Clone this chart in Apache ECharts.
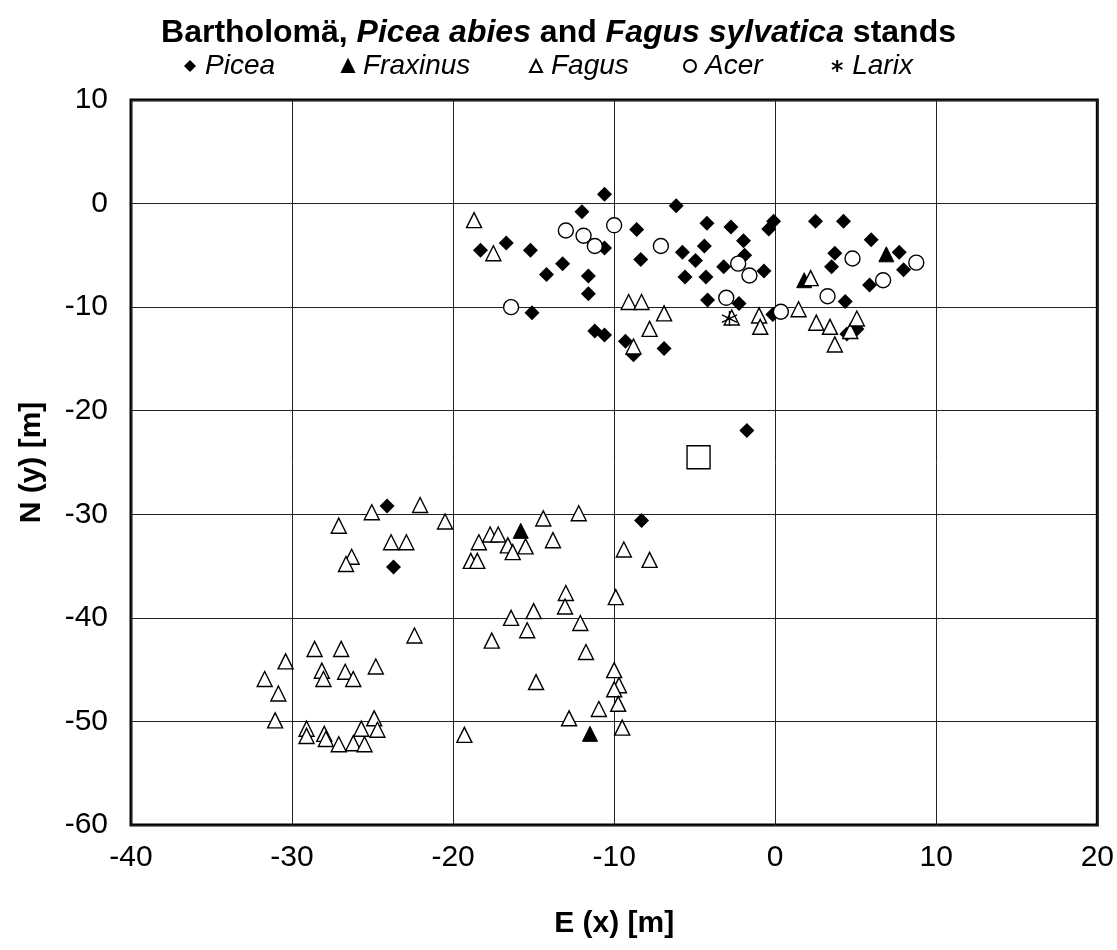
<!DOCTYPE html>
<html>
<head>
<meta charset="utf-8">
<script src="https://cdn.jsdelivr.net/npm/echarts@6/dist/echarts.min.js"></script>
<style>html,body{margin:0;padding:0;background:#fff}#c{width:1117px;height:950px}</style>
</head>
<body>
<div id="c"></div>
<script>
// Data: [E (x), N (y)] in metres
var picea = [[-10.6,0.9],[-12.0,-0.8],[-6.15,-0.2],[-4.24,-1.9],[-2.75,-2.25],[-0.1,-1.7],[-0.4,-2.45],[-8.6,-2.5],[-1.97,-3.6],[-1.9,-5.0],[-16.7,-3.8],[-18.3,-4.5],[-15.2,-4.5],[-10.6,-4.3],[-5.76,-4.7],[-4.4,-4.1],[-4.95,-5.5],[-8.35,-5.4],[-13.2,-5.8],[-14.2,-6.85],[-11.6,-7.0],[-5.6,-7.1],[-4.3,-7.1],[-3.2,-6.1],[-0.7,-6.5],[-11.6,-8.7],[-4.2,-9.3],[-2.25,-9.65],[-15.1,-10.55],[-11.2,-12.3],[-10.6,-12.7],[-9.3,-13.3],[-8.8,-14.6],[-6.9,-14.0],[-0.15,-10.7],[2.5,-1.7],[4.24,-1.7],[5.96,-3.5],[3.7,-4.8],[7.7,-4.7],[3.5,-6.1],[7.97,-6.4],[5.86,-7.85],[4.35,-9.46],[4.45,-12.6],[5.07,-12.1],[-24.1,-29.2],[-23.7,-35.1],[-8.3,-30.6],[-1.76,-21.9]];
var fraxinus = [[6.9,-4.9],[1.8,-7.4],[-15.8,-31.6],[-11.5,-51.2]];
var fagus = [[-18.7,-1.6],[-17.5,-4.8],[-9.1,-9.5],[-8.3,-9.5],[-6.9,-10.6],[-7.8,-12.1],[-8.8,-13.8],[-2.7,-11.0],[-1.0,-10.8],[-0.93,-11.9],[2.2,-7.2],[1.45,-10.2],[2.55,-11.5],[3.4,-11.9],[3.7,-13.6],[4.66,-12.3],[5.07,-11.1],
 [-25.05,-29.8],[-22.05,-29.1],[-27.1,-31.1],[-20.5,-30.7],[-23.85,-32.7],[-22.9,-32.7],[-26.3,-34.1],[-26.65,-34.8],[-18.4,-32.7],[-18.9,-34.5],[-18.5,-34.5],[-12.2,-29.9],[-14.4,-30.4],[-17.7,-31.95],[-17.2,-31.95],[-16.6,-33.0],[-16.3,-33.65],[-15.5,-33.1],[-13.8,-32.5],[-9.4,-33.4],[-7.8,-34.4],
 [-13.0,-37.6],[-9.9,-38.0],[-13.05,-38.9],[-15.0,-39.35],[-16.4,-40.0],[-15.4,-41.2],[-12.1,-40.5],[-17.6,-42.2],[-11.75,-43.3],[-14.85,-46.2],[-10.0,-45.05],[-9.7,-46.5],[-10.0,-46.9],[-9.75,-48.3],[-10.95,-48.8],[-12.8,-49.7],[-9.5,-50.6],[-19.3,-51.3],
 [-22.4,-41.7],[-30.4,-44.2],[-28.6,-43.0],[-26.95,-43.0],[-31.7,-45.9],[-30.85,-47.3],[-28.15,-45.1],[-28.05,-45.9],[-26.7,-45.2],[-26.2,-45.9],[-24.8,-44.7],[-31.05,-49.9],[-24.9,-49.7],[-29.1,-50.7],[-29.1,-51.4],[-28.0,-51.2],[-27.9,-51.7],[-27.1,-52.2],[-26.2,-52.1],[-25.5,-52.2],[-25.7,-50.7],[-24.7,-50.8]];
var acer = [[-13.0,-2.6],[-11.9,-3.1],[-11.2,-4.1],[-10.0,-2.1],[-7.1,-4.1],[-16.4,-10.0],[-2.3,-5.8],[-1.6,-6.95],[-3.04,-9.1],[0.35,-10.45],[4.8,-5.3],[8.76,-5.7],[6.7,-7.4],[3.25,-8.95]];
var larix = [[-2.84,-11.1]];
var plotCentre = [[-4.76,-24.5]];
var xTicks = [-40,-30,-20,-10,0,10,20];
var yTicks = [-60,-50,-40,-30,-20,-10,0,10];

var FONT = "'Liberation Sans', Arial, sans-serif";
var ASTER = 'path://M10 0 L10 20 M1.34 5 L18.66 15 M1.34 15 L18.66 5';

function legendFor(name, left) {
  return {
    data: [name], left: left, top: 47, itemWidth: 12, itemHeight: 12,
    textStyle: {fontFamily: FONT, fontSize: 28, fontStyle: 'italic', color: '#000', padding: [0,0,0,4]},
    selectedMode: false
  };
}

var chart = echarts.init(document.getElementById('c'), null, {renderer: 'canvas'});
chart.setOption({
  animation: false,
  backgroundColor: '#fff',
  title: {
    left: 'center', top: 12,
    text: '{b|Bartholomä, }{bi|Picea abies}{b| and }{bi|Fagus sylvatica}{b| stands}',
    textStyle: {rich: {
      b: {fontFamily: FONT, fontSize: 32, fontWeight: 'bold', color: '#000'},
      bi: {fontFamily: FONT, fontSize: 32, fontWeight: 'bold', fontStyle: 'italic', color: '#000'}
    }}
  },
  legend: [legendFor('Picea', 179), legendFor('Fraxinus', 336), legendFor('Fagus', 524), legendFor('Acer', 678), legendFor('Larix', 826)],
  grid: {left: 131, right: 19, top: 100, bottom: 125, show: true, borderColor: '#000', borderWidth: 3, backgroundColor: 'transparent'},
  xAxis: {
    type: 'value', min: xTicks[0], max: xTicks[xTicks.length-1], interval: 10,
    name: 'E (x) [m]', nameLocation: 'middle', nameGap: 84,
    nameTextStyle: {fontFamily: FONT, fontSize: 30, fontWeight: 'bold', color: '#000'},
    axisLine: {show: false}, axisTick: {show: false},
    axisLabel: {fontFamily: FONT, fontSize: 30, color: '#000', margin: 18},
    splitLine: {lineStyle: {color: '#222', width: 1}}
  },
  yAxis: {
    type: 'value', min: yTicks[0], max: yTicks[yTicks.length-1], interval: 10,
    name: 'N (y) [m]', nameLocation: 'middle', nameGap: 84, nameRotate: 90,
    nameTextStyle: {fontFamily: FONT, fontSize: 30, fontWeight: 'bold', color: '#000'},
    axisLine: {show: false}, axisTick: {show: false},
    axisLabel: {fontFamily: FONT, fontSize: 30, color: '#000', margin: 23},
    splitLine: {lineStyle: {color: '#222', width: 1}}
  },
  series: [
    {name: 'Picea', type: 'scatter', data: picea, symbol: 'diamond', symbolSize: 15,
     itemStyle: {color: '#000', borderColor: '#000', borderWidth: 0, opacity: 1}},
    {name: 'Fraxinus', type: 'scatter', data: fraxinus, symbol: 'triangle', symbolSize: 15,
     itemStyle: {color: '#000', borderColor: '#000', borderWidth: 1, opacity: 1}},
    {name: 'Fagus', type: 'scatter', data: fagus, symbol: 'triangle', symbolSize: 15,
     itemStyle: {color: '#fff', borderColor: '#000', borderWidth: 1.4, opacity: 1}},
    {name: 'Acer', type: 'scatter', data: acer, symbol: 'circle', symbolSize: 15,
     itemStyle: {color: '#fff', borderColor: '#000', borderWidth: 1.4, opacity: 1}},
    {name: 'Larix', type: 'scatter', data: larix, symbol: ASTER, symbolSize: 15,
     itemStyle: {color: 'rgba(0,0,0,0)', borderColor: '#000', borderWidth: 1.4, opacity: 1}},
    {name: 'centre', type: 'scatter', data: plotCentre, symbol: 'rect', symbolSize: 23,
     itemStyle: {color: '#fff', borderColor: '#000', borderWidth: 1.4, opacity: 1}}
  ]
});
</script>
</body>
</html>
